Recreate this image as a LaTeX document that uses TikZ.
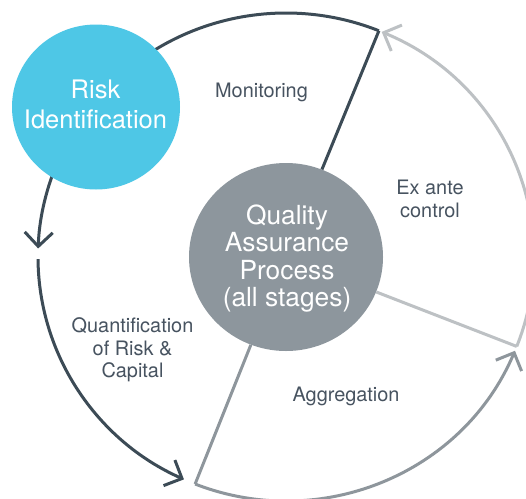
\documentclass[tikz,border=0pt]{standalone}
\usepackage{fontspec}
\setmainfont{TeX Gyre Heros}
\usetikzlibrary{arrows.meta,shapes.geometric}
\definecolor{riskblue}{HTML}{4EC7E6}
\definecolor{qagray}{HTML}{8D969D}
\definecolor{darkline}{HTML}{3C4B56}
\definecolor{midline}{HTML}{8E969C}
\definecolor{lightline}{HTML}{BDC1C4}
\definecolor{labeltext}{HTML}{475360}
\begin{document}
\begin{tikzpicture}[x=1pt,y=-1pt,
  lbl/.style={text=labeltext, font=\fontsize{19.9}{22.3}\selectfont, align=center, inner sep=0pt},
  bigtxt/.style={text=white, align=center, inner sep=0pt},
  ring/.style={line width=3pt},
  chev/.style={-{Straight Barb[length=14pt,width=28pt]}},
  blob/.style={ellipse, inner sep=0pt, draw=none}]
\clip (0,0) rectangle (526,498);
\fill[white] (0,0) rectangle (526,498);
\useasboundingbox (0,0) rectangle (526,498);
\coordinate (C) at (286,257);
\path (C) ++(-68:248 and 244) coordinate (ctop);
\path (C) ++(21.5:248 and 244) coordinate (cright);
\path (C) ++(111.5:248 and 244) coordinate (cbottom);
\path (C) ++(201.5:248 and 244) coordinate (chidden);
\path (C) ++(179.5:248 and 244) coordinate (cleft);
% arcs
\draw[ring, darkline] (ctop) arc[start angle=-68, end angle=-158.5, x radius=248, y radius=244];
\draw[ring, darkline, chev] (chidden) arc[start angle=201.5, end angle=182, x radius=248, y radius=244];
\draw[ring, darkline, chev] (cleft) arc[start angle=179.5, end angle=114.3, x radius=248, y radius=244];
\draw[ring, midline, chev] (cbottom) arc[start angle=111.5, end angle=22.6, x radius=248, y radius=244];
\draw[ring, lightline, chev] (cright) arc[start angle=21.5, end angle=-67.3, x radius=248, y radius=244];
% circles
\node[blob, fill=riskblue, minimum width=168pt, minimum height=165pt] (risk) at (96,107) {};
\node[blob, fill=qagray, minimum width=194pt, minimum height=188pt] (qa) at (286,257) {};
% radial lines
\draw[ring, darkline] (qa) -- (ctop);
\draw[ring, lightline] (qa) -- (cright);
\draw[ring, midline] (qa) -- (cbottom);
% texts
\node[bigtxt, font=\fontsize{25.5}{30}\selectfont] (risktxt) at (95.5,104) {Risk\\Identification};
\node[bigtxt, font=\fontsize{26.3}{27.3}\selectfont] (qatxt) at (287,258.6) {Quality\\Assurance\\Process\\(all stages)};
\node[lbl, anchor=base] (mon) at (261.5,97) {Monitoring};
\node[lbl] (exante) at (430,199) {Ex ante\\control};
\node[lbl] (quant) at (132.5,350) {Quantification\\of Risk \&\\Capital};
\node[lbl, anchor=base] (agg) at (346,401) {Aggregation};
\end{tikzpicture}
\end{document}
